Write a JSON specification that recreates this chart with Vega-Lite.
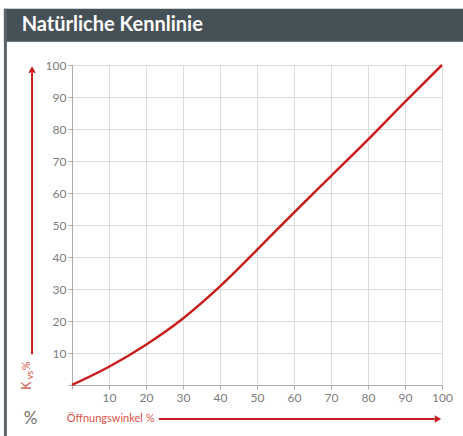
{
  "$schema": "https://vega.github.io/schema/vega-lite/v6.json",
  "width": 370,
  "height": 320,
  "autosize": {"type": "none"},
  "padding": {"left": 72, "top": 65, "right": 21, "bottom": 51},
  "background": "white",
  "config": {
    "view": {"stroke": null},
    "font": "Lato",
    "axis": {
      "labelFont": "Lato",
      "labelFontSize": 12,
      "labelColor": "#7d7d7d",
      "domainColor": "#a9aeb3",
      "tickColor": "#a9aeb3",
      "tickSize": 4,
      "gridColor": "#dcdcdc",
      "labelOverlap": false,
      "labelBound": false,
      "labelFlush": false,
      "tickCount": 11,
      "values": [0, 10, 20, 30, 40, 50, 60, 70, 80, 90, 100],
      "labelExpr": "datum.value == 0 ? '' : datum.label",
      "grid": true,
      "title": null
    },
    "axisX": {"labelPadding": 3},
    "axisY": {"labelPadding": 2}
  },
  "layer": [
    {
      "data": {
        "values": [
          {"winkel": 0, "kvs": 0},
          {"winkel": 10, "kvs": 5.7},
          {"winkel": 20, "kvs": 12.6},
          {"winkel": 30, "kvs": 20.8},
          {"winkel": 40, "kvs": 30.8},
          {"winkel": 50, "kvs": 42.2},
          {"winkel": 60, "kvs": 53.9},
          {"winkel": 70, "kvs": 65.3},
          {"winkel": 80, "kvs": 76.7},
          {"winkel": 90, "kvs": 88.5},
          {"winkel": 100, "kvs": 100}
        ]
      },
      "mark": {"type": "line", "color": "#c81e1e", "strokeWidth": 2.5, "interpolate": "monotone"},
      "encoding": {
        "x": {
          "field": "winkel", "type": "quantitative",
          "scale": {"domain": [0, 100], "nice": false},
          "axis": {"values": [0, 10, 20, 30, 40, 50, 60, 70, 80, 90, 100], "tickCount": 11}
        },
        "y": {
          "field": "kvs", "type": "quantitative",
          "scale": {"domain": [0, 100], "nice": false},
          "axis": {"values": [0, 10, 20, 30, 40, 50, 60, 70, 80, 90, 100], "tickCount": 11}
        }
      }
    },
    {
      "data": {"values": [{}]},
      "mark": {"type": "rect", "color": "#465057"},
      "encoding": {
        "x": {"datum": -18.4, "type": "quantitative"},
        "x2": {"datum": 107.6},
        "y": {"datum": 117.6, "type": "quantitative"},
        "y2": {"datum": 107.3}
      }
    },
    {
      "data": {"values": [{}]},
      "mark": {"type": "rule", "color": "#5c6369", "strokeWidth": 3},
      "encoding": {
        "x": {"datum": -18.0, "type": "quantitative"},
        "y": {"datum": 117.6, "type": "quantitative"},
        "y2": {"datum": -16.5}
      }
    },
    {
      "data": {"values": [{"t": "Natürliche Kennlinie"}]},
      "mark": {"type": "text", "color": "white", "font": "Lato", "fontWeight": "bold", "fontSize": 20, "align": "left", "baseline": "middle"},
      "encoding": {
        "x": {"datum": -13.6, "type": "quantitative"},
        "y": {"datum": 112.4, "type": "quantitative"},
        "text": {"field": "t"}
      }
    },
    {
      "data": {"values": [{}]},
      "mark": {"type": "rule", "color": "#c81e1e", "strokeWidth": 2},
      "encoding": {
        "x": {"datum": -10.8, "type": "quantitative"},
        "y": {"datum": 9.6, "type": "quantitative"},
        "y2": {"datum": 97.5}
      }
    },
    {
      "data": {"values": [{}]},
      "mark": {"type": "point", "shape": "triangle-up", "filled": true, "color": "#c81e1e", "size": 55, "opacity": 1},
      "encoding": {
        "x": {"datum": -10.8, "type": "quantitative"},
        "y": {"datum": 98.6, "type": "quantitative"}
      }
    },
    {
      "data": {"values": [{}]},
      "mark": {"type": "rule", "color": "#c81e1e", "strokeWidth": 2},
      "encoding": {
        "x": {"datum": 23.5, "type": "quantitative"},
        "x2": {"datum": 98},
        "y": {"datum": -10.6, "type": "quantitative"}
      }
    },
    {
      "data": {"values": [{}]},
      "mark": {"type": "point", "shape": "triangle-right", "filled": true, "color": "#c81e1e", "size": 55, "opacity": 1},
      "encoding": {
        "x": {"datum": 98.9, "type": "quantitative"},
        "y": {"datum": -10.6, "type": "quantitative"}
      }
    },
    {
      "data": {"values": [{"t": "Öffnungswinkel %"}]},
      "mark": {"type": "text", "color": "#d9534a", "fontSize": 11, "align": "left", "baseline": "middle"},
      "encoding": {
        "x": {"datum": -1.4, "type": "quantitative"},
        "y": {"datum": -10.6, "type": "quantitative"},
        "text": {"field": "t"}
      }
    },
    {
      "data": {"values": [{"t": "%"}]},
      "mark": {"type": "text", "color": "#6f6f6f", "fontSize": 17, "align": "center", "baseline": "middle"},
      "encoding": {
        "x": {"datum": -11.2, "type": "quantitative"},
        "y": {"datum": -10.6, "type": "quantitative"},
        "text": {"field": "t"}
      }
    },
    {
      "data": {"values": [{"t": "K"}]},
      "mark": {"type": "text", "color": "#d9534a", "fontSize": 13, "angle": 270, "align": "left", "baseline": "middle"},
      "encoding": {
        "x": {"datum": -12.1, "type": "quantitative"},
        "y": {"datum": -1.6, "type": "quantitative"},
        "text": {"field": "t"}
      }
    },
    {
      "data": {"values": [{"t": "vs"}]},
      "mark": {"type": "text", "color": "#d9534a", "fontSize": 9, "angle": 270, "align": "left", "baseline": "middle"},
      "encoding": {
        "x": {"datum": -11.3, "type": "quantitative"},
        "y": {"datum": 1.8, "type": "quantitative"},
        "text": {"field": "t"}
      }
    },
    {
      "data": {"values": [{"t": "%"}]},
      "mark": {"type": "text", "color": "#d9534a", "fontSize": 11, "angle": 270, "align": "left", "baseline": "middle"},
      "encoding": {
        "x": {"datum": -12.2, "type": "quantitative"},
        "y": {"datum": 4.6, "type": "quantitative"},
        "text": {"field": "t"}
      }
    }
  ]
}
